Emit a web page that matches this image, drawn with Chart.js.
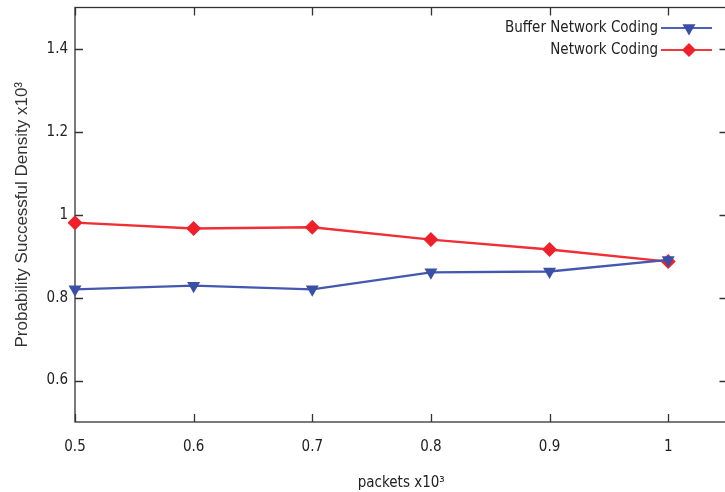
<!DOCTYPE html>
<html>
<head>
<meta charset="utf-8">
<script src="https://cdn.jsdelivr.net/npm/chart.js@4/dist/chart.umd.min.js"></script>
<style>
  html, body { margin: 0; padding: 0; background: #fff; overflow: hidden; }
  #wrap { width: 735px; height: 492px; position: relative; }
</style>
</head>
<body>
<div id="wrap"><canvas id="chart"></canvas></div>
<script>
'use strict';

// Data
var packets = [0.5, 0.6, 0.7, 0.8, 0.9, 1.0];
var bufferNetworkCoding = [0.820, 0.829, 0.820, 0.861, 0.863, 0.891];
var networkCoding = [0.981, 0.967, 0.970, 0.940, 0.916, 0.887];
var xTicks = [0.5, 0.6, 0.7, 0.8, 0.9, 1];
var yTicks = [0.6, 0.8, 1, 1.2, 1.4];

var tickFont = { family: '"DejaVu Sans Condensed", "DejaVu Sans", sans-serif', size: 15 };
var blue = '#3a4fa6';
var red = '#ee2029';

function toPoints(values) {
  return packets.map(function (x, i) {
    return { x: x, y: values[i] };
  });
}

function triangleDown(ctx, x, y, r) {
  ctx.beginPath();
  ctx.moveTo(x - r * 0.866, y - r * 0.5);
  ctx.lineTo(x + r * 0.866, y - r * 0.5);
  ctx.lineTo(x, y + r);
  ctx.closePath();
  ctx.fill();
}

function diamond(ctx, x, y, r) {
  ctx.beginPath();
  ctx.moveTo(x, y - r);
  ctx.lineTo(x + r, y);
  ctx.lineTo(x, y + r);
  ctx.lineTo(x - r, y);
  ctx.closePath();
  ctx.fill();
}

// gnuplot style frame with inward ticks, drawn under the lines
var framePlugin = {
  id: 'frame',
  beforeDatasetsDraw: function (chart) {
    var ctx = chart.ctx, a = chart.chartArea;
    var xs = chart.scales.x, ys = chart.scales.y;
    ctx.save();
    ctx.strokeStyle = '#333';
    ctx.lineWidth = 1.3;
    ctx.strokeRect(a.left, a.top, a.right - a.left, a.bottom - a.top);
    ctx.beginPath();
    xTicks.forEach(function (v) {
      var px = Math.round(xs.getPixelForValue(v)) + 0.5;
      ctx.moveTo(px, a.bottom);
      ctx.lineTo(px, a.bottom - 8);
      ctx.moveTo(px, a.top);
      ctx.lineTo(px, a.top + 8);
    });
    yTicks.forEach(function (v) {
      var py = Math.round(ys.getPixelForValue(v)) + 0.5;
      ctx.moveTo(a.left, py);
      ctx.lineTo(a.left + 8, py);
      ctx.moveTo(a.right, py);
      ctx.lineTo(a.right - 8, py);
    });
    ctx.stroke();
    ctx.restore();
  }
};

// legend in the top right corner: text, then line sample with marker
var keyPlugin = {
  id: 'key',
  afterDraw: function (chart) {
    var ctx = chart.ctx;
    var rows = [
      { label: 'Buffer Network Coding', color: blue, line: '#4d62b8', mark: triangleDown, r: 7.5 },
      { label: 'Network Coding', color: red, line: '#f03a40', mark: diamond, r: 7 }
    ];
    ctx.save();
    ctx.font = tickFont.size + 'px ' + tickFont.family;
    ctx.textAlign = 'right';
    ctx.textBaseline = 'middle';
    rows.forEach(function (row, i) {
      var y = 28 + i * 22;
      ctx.fillStyle = '#222';
      ctx.fillText(row.label, 658, y);
      ctx.strokeStyle = row.line;
      ctx.lineWidth = 2.2;
      ctx.beginPath();
      ctx.moveTo(661, y);
      ctx.lineTo(712, y);
      ctx.stroke();
      ctx.fillStyle = row.color;
      row.mark(ctx, 689, y, row.r);
    });
    ctx.restore();
  }
};

var ctx = document.getElementById('chart').getContext('2d');
new Chart(ctx, {
  type: 'line',
  data: {
    datasets: [{
      label: 'Buffer Network Coding',
      data: toPoints(bufferNetworkCoding),
      borderColor: '#4458b0',
      backgroundColor: blue,
      borderWidth: 2.4,
      pointStyle: 'triangle',
      rotation: 180,
      pointRadius: 7.5,
      pointHoverRadius: 7.5,
      pointBorderWidth: 0,
      tension: 0,
      clip: false
    }, {
      label: 'Network Coding',
      data: toPoints(networkCoding),
      borderColor: '#f02e35',
      backgroundColor: red,
      borderWidth: 2.4,
      pointStyle: 'rectRot',
      pointRadius: 7.5,
      pointHoverRadius: 7.5,
      pointBorderWidth: 0,
      tension: 0,
      clip: false
    }]
  },
  options: {
    responsive: true,
    maintainAspectRatio: false,
    animation: false,
    events: [],
    layout: { padding: { top: 6, right: 7, left: 0, bottom: 0 } },
    plugins: {
      legend: { display: false },
      tooltip: { enabled: false }
    },
    scales: {
      x: {
        type: 'linear',
        min: 0.5,
        max: 1.05,
        afterBuildTicks: function (scale) {
          scale.ticks = xTicks.map(function (v) { return { value: v }; });
        },
        afterFit: function (scale) {
          scale.height = 70;
          scale.paddingLeft = 0;
          scale.paddingRight = 0;
        },
        grid: { display: false, drawTicks: false },
        border: { display: false },
        ticks: {
          font: tickFont,
          color: '#222',
          padding: 16,
          maxRotation: 0,
          callback: function (v) { return String(Math.round(v * 10) / 10); }
        },
        title: {
          display: true,
          text: 'packets x10³',
          font: tickFont,
          color: '#222',
          padding: { top: 0, bottom: 0 }
        }
      },
      y: {
        min: 0.5,
        max: 1.5,
        afterBuildTicks: function (scale) {
          scale.ticks = yTicks.map(function (v) { return { value: v }; });
        },
        afterFit: function (scale) {
          scale.width = 75;
          scale.paddingTop = 0;
          scale.paddingBottom = 0;
        },
        grid: { display: false, drawTicks: false },
        border: { display: false },
        ticks: {
          font: tickFont,
          color: '#222',
          padding: 7,
          callback: function (v) { return String(Math.round(v * 10) / 10); }
        },
        title: {
          display: true,
          text: 'Probability Successful Density x10³',
          font: { family: '"Liberation Sans", Arial, sans-serif', size: 17 },
          color: '#333',
          padding: { top: 12, bottom: 0 }
        }
      }
    }
  },
  plugins: [framePlugin, keyPlugin]
});
</script>
</body>
</html>
